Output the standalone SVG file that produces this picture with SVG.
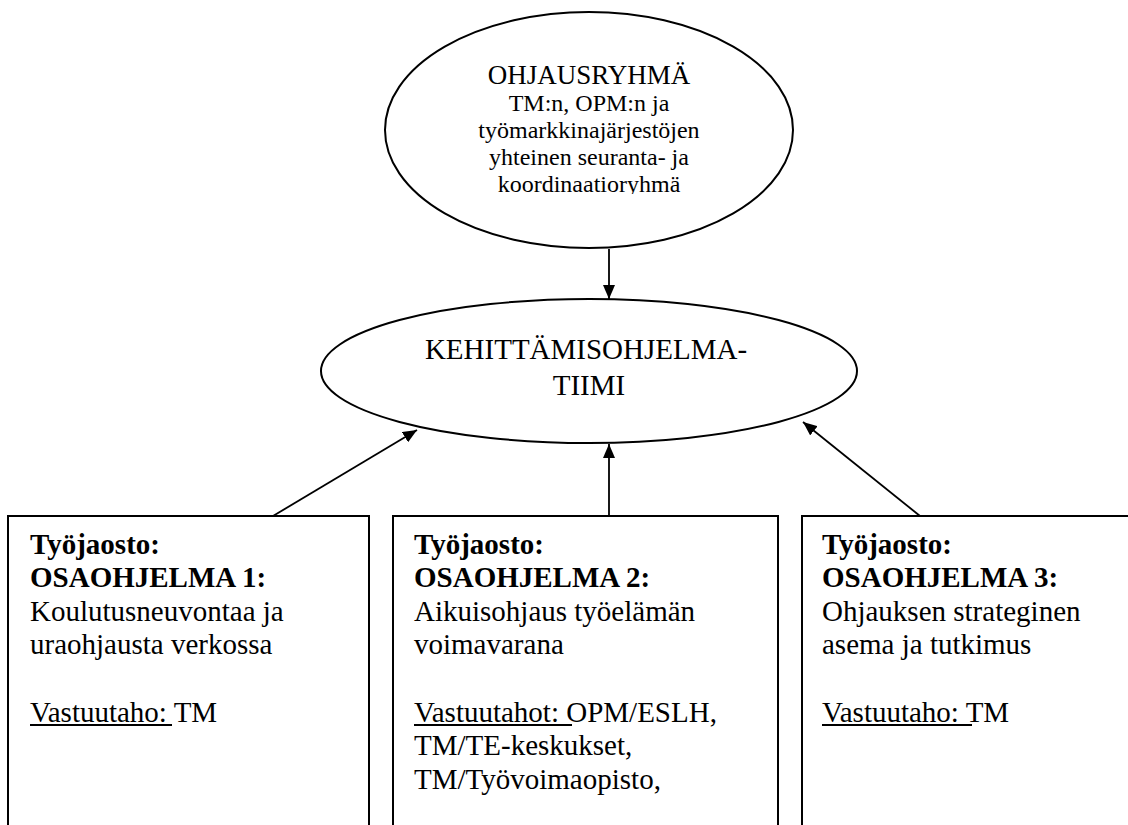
<svg xmlns="http://www.w3.org/2000/svg" width="1128" height="825" viewBox="0 0 1128 825">
<style>
.shape{fill:#fff;stroke:#000;stroke-width:2}
.t{font-family:"Liberation Serif","Times New Roman",serif;fill:#000}
.big{font-size:29px}
.head{font-size:27px}
.small{font-size:24px}
.b{font-weight:bold}
.c{text-anchor:middle}
.conn{stroke:#000;stroke-width:1.8;fill:none;marker-end:url(#ah)}
.u{stroke:#000;stroke-width:2}
</style>
<defs>
<marker id="ah" viewBox="0 0 14 12" refX="14" refY="6" markerWidth="14" markerHeight="12" markerUnits="userSpaceOnUse" orient="auto">
<path d="M0,0 L14,6 L0,12 Z" fill="#000"/>
</marker>
<clipPath id="topclip"><rect x="380" y="0" width="420" height="194"/></clipPath>
</defs>
<rect width="1128" height="825" fill="#fff"/>
<g id="ohjausryhma">
<ellipse class="shape" cx="589" cy="130" rx="204" ry="118"/>
<g clip-path="url(#topclip)">
<text class="t head c" x="589" y="84">OHJAUSRYHMÄ</text>
<text class="t small c" x="589" y="111">TM:n, OPM:n ja</text>
<text class="t small c" x="589" y="138">työmarkkinajärjestöjen</text>
<text class="t small c" x="589" y="165">yhteinen seuranta- ja</text>
<text class="t small c" x="589" y="192">koordinaatioryhmä</text>
</g>
</g>
<g id="tiimi">
<ellipse class="shape" cx="589" cy="371" rx="268" ry="72"/>
<text class="t big c" x="586" y="359">KEHITTÄMISOHJELMA-</text>
<text class="t big c" x="589" y="395">TIIMI</text>
</g>
<g id="osaohjelma1">
<rect class="shape" x="8" y="516" width="361" height="330"/>
<text class="t big b" x="30" y="554">Työjaosto:</text>
<text class="t big b" x="30" y="587">OSAOHJELMA 1:</text>
<text class="t big" x="30" y="621">Koulutusneuvontaa ja</text>
<text class="t big" x="30" y="654">uraohjausta verkossa</text>
<text class="t big" x="30" y="722">Vastuutaho: TM</text>
<line class="u" x1="30" y1="725" x2="172" y2="725"/>
</g>
<g id="osaohjelma2">
<rect class="shape" x="393" y="516" width="385" height="330"/>
<text class="t big b" x="414" y="554">Työjaosto:</text>
<text class="t big b" x="414" y="587">OSAOHJELMA 2:</text>
<text class="t big" x="414" y="621">Aikuisohjaus työelämän</text>
<text class="t big" x="414" y="654">voimavarana</text>
<text class="t big" x="414" y="722">Vastuutahot: OPM/ESLH,</text>
<line class="u" x1="414" y1="725" x2="572" y2="725"/>
<text class="t big" x="414" y="755">TM/TE-keskukset,</text>
<text class="t big" x="414" y="789">TM/Työvoimaopisto,</text>
</g>
<g id="osaohjelma3">
<rect class="shape" x="802" y="516" width="340" height="330"/>
<text class="t big b" x="822" y="554">Työjaosto:</text>
<text class="t big b" x="822" y="587">OSAOHJELMA 3:</text>
<text class="t big" x="822" y="621">Ohjauksen strateginen</text>
<text class="t big" x="822" y="654">asema ja tutkimus</text>
<text class="t big" x="822" y="722">Vastuutaho: TM</text>
<line class="u" x1="822" y1="725" x2="972" y2="725"/>
</g>
<g id="connectors">
<line class="conn" x1="609" y1="249" x2="609" y2="299"/>
<line class="conn" x1="609" y1="516" x2="609" y2="444"/>
<line class="conn" x1="273" y1="516" x2="417" y2="430"/>
<line class="conn" x1="920" y1="516" x2="803" y2="422"/>
</g>
</svg>
